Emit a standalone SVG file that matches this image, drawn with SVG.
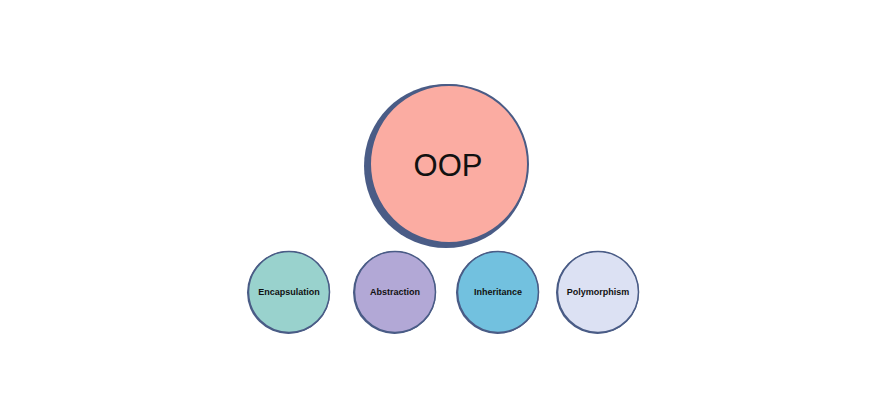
<svg xmlns="http://www.w3.org/2000/svg" width="878" height="413" viewBox="0 0 878 413">
<style>
.sh{fill:#4a5c86}
.c{stroke:#4a5c86;stroke-width:2}
.s{stroke:#4a5c86;stroke-width:1.5}
.lbl{font-family:"Liberation Sans",Arial,sans-serif;font-weight:bold;font-size:9px;fill:#111;text-anchor:middle;dominant-baseline:central}
</style>
<rect width="878" height="413" fill="#ffffff"/>
<g id="oop">
<circle class="sh" cx="446" cy="166" r="82"/>
<circle class="c" cx="449" cy="164" r="79" fill="#fbaca2"/>
<text x="448" y="165" font-family="Liberation Sans,Arial,sans-serif" font-size="31" fill="#111" text-anchor="middle" dominant-baseline="central">OOP</text>
</g>
<g id="encapsulation">
<circle class="sh" cx="288.5" cy="292.5" r="41.5"/>
<circle class="s" cx="289" cy="292" r="40.5" fill="#99d2cd"/>
<text class="lbl" x="289" y="292">Encapsulation</text>
</g>
<g id="abstraction">
<circle class="sh" cx="394.5" cy="292.5" r="41.5"/>
<circle class="s" cx="395" cy="292" r="40.5" fill="#b2a8d6"/>
<text class="lbl" x="395" y="292">Abstraction</text>
</g>
<g id="inheritance">
<circle class="sh" cx="497.5" cy="292.5" r="41.5"/>
<circle class="s" cx="498" cy="292" r="40.5" fill="#72c1df"/>
<text class="lbl" x="498" y="292">Inheritance</text>
</g>
<g id="polymorphism">
<circle class="sh" cx="597.5" cy="292.5" r="41.5"/>
<circle class="s" cx="598" cy="292" r="40.5" fill="#dce1f3"/>
<text class="lbl" x="598" y="292">Polymorphism</text>
</g>
<g id="connectors"></g>
</svg>
